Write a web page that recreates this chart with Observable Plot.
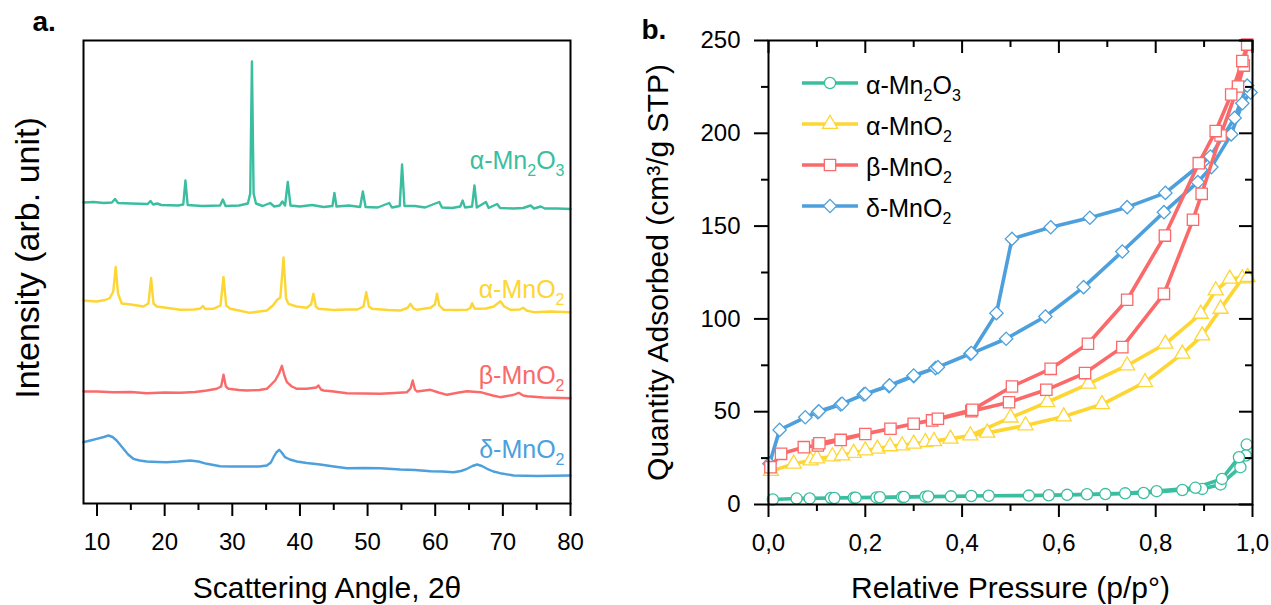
<!DOCTYPE html>
<html><head><meta charset="utf-8">
<script src="https://cdn.jsdelivr.net/npm/d3@7"></script>
<script src="https://cdn.jsdelivr.net/npm/@observablehq/plot@0.6"></script>
<style>
body{margin:0;background:#fff;}
#wrap{position:relative;width:1271px;height:605px;overflow:hidden;font-family:"Liberation Sans",Arial,sans-serif;background:#fff;}
#pa{position:absolute;left:0;top:0;}
#pb{position:absolute;left:640px;top:0;}
#leg{position:absolute;left:0;top:0;pointer-events:none;}
</style></head>
<body><div id="wrap"><div id="pa"></div><div id="pb"></div><svg id="leg" width="1271" height="605"></svg></div>
<script>
// ---------- series meta ----------
const names = ["α-Mn2O3", "α-MnO2", "β-MnO2", "δ-MnO2"];
const colors = ["#3abe9f", "#fdd633", "#fa6a6a", "#4da0dc"];
const symbols = ["circle", "triangle", "square", "diamond2"];

// ---------- panel a: XRD (2θ, intensity arb.) ----------
const thetaMn2O3 = [8,9.5,11,12.2,12.66,13.1,15,17.5,17.9,18.3,18.9,19.5,22,22.75,23.07,23.4,25.5,28.2,28.6,29,31,32.3,32.65,32.9,33.15,33.5,34.5,35.6,36.2,37,37.4,37.8,38.2,38.6,40,41.8,43.5,44.8,45.1,45.4,47.25,48.9,49.3,49.7,51.5,53.2,53.6,54.75,55.1,55.45,57,58.5,60.6,61,62.5,63.7,64.06,64.4,65.45,65.8,66.15,67.5,67.9,69.15,69.6,71.5,73,74.1,74.6,75.6,76.2,78,80];
const intMn2O3 = [301,301.5,300.5,301,304.5,300.5,300,299.5,302.5,299,300,298.5,298,299,323,298.5,297.5,298,304,297.5,298,300,310,442,310,300,297.5,300.5,297,298,302,298,321.5,298,297,298.5,296.5,297.5,310.5,297,298,296.5,312,296.5,296,300.5,296,297.5,339,297.5,297.5,296,301.5,296,295.5,297,303,296,297,318,296,301.5,295.5,299.5,295.5,295,295.5,298,295,297,295,295,294.5];

const thetaAMnO2 = [8,9.9,11.2,11.9,12.4,12.76,13.1,13.65,15,16.86,17.6,17.99,18.35,18.83,20.5,22.3,24.3,25.3,25.64,26,27.2,28.25,28.7,29.1,29.7,31,32.6,34,35.1,36,36.6,37.1,37.57,37.95,38.3,39.5,41,41.65,42,42.35,42.75,45,46.95,48.5,49.4,49.8,50.2,50.65,53,54.84,55.9,56.32,56.8,57.3,59.3,59.95,60.27,60.6,61.25,63,64.7,65.2,65.45,65.8,66.2,67.5,68.65,69.64,70.2,71.12,72.5,73,73.5,74.57,77,80];
const intAMnO2 = [203,202,203.5,205.5,212,236.5,210,200,199,197,200,225.5,200,197,195.5,193.7,194,195,197.5,194.5,194.7,198,226.5,198,194.7,193,190.7,192,193,198,203.5,206,246,205,199.7,197,195.7,199,209.7,197,194.7,193.5,194,194,197,211.3,197,194.7,193.5,193,195.5,199.7,195,193.7,195.7,199,209.7,198,193.7,193.5,193.7,195.5,200.3,195,194.7,195,197,202.3,197,193.7,194,195.7,193,191.3,192,191.3];

const thetaBMnO2 = [8,10,12.4,15,17.35,20,22.3,24.5,26.23,27.7,28.35,28.7,29.05,29.44,31,32.15,34,35.1,36.34,36.9,37.33,37.7,38.07,38.8,39.55,41,42.4,42.75,43.1,43.5,45,46.95,49.5,51.9,54,55.83,56.35,56.67,57,57.3,59.3,60.5,61.75,63.5,64.7,66.68,68.5,69.6,71.5,72.35,73,73.6,76,80];
const intBMnO2 = [112,112,111.3,111.5,110.3,111,110.7,111.5,113,114.7,117,128.7,117,114.7,113.5,113,113.5,114.7,123,130,137.7,128,121.3,117,114.7,114.7,116,118,114,113,112,110.3,110,109.7,110.5,111.3,115,123,114,112,113.7,111,108.7,111,112.3,111.3,108,106.3,108.5,110.7,108,107.3,106,105.3];

const thetaDMnO2 = [8,9,9.95,11,11.68,12.3,12.9,13.9,14.6,15.37,16.3,17.35,19,20.3,22,23.76,25,26.23,28.2,30,32.15,34,35.1,35.7,36.1,36.5,36.93,37.3,37.8,38.5,39.55,41,43,45,46.95,49.5,51.9,54.84,57,59.3,61,62.73,63.8,64.7,65.5,66.2,66.9,67.67,68.6,69.6,71.6,75,80];
const intDMnO2 = [61.3,63,64.7,66.5,68,66.5,63,54.7,49,44.7,43,42,41.5,41.3,42,43,42,39.7,37.3,37,37,37,38,41,46.3,51,53.7,51,46.3,44,42,40.5,39,37,35.3,35.5,35.3,34,33.5,32.3,32,31.3,32.5,34.7,37.5,39,37.5,34.7,32,30.3,28,27.5,28];

const xrdLabelLevel = [335, 206, 120, 46];
const xrdTicks = [10,20,30,40,50,60,70,80];
const xrdMinor = [15,25,35,45,55,65,75];

// ---------- panel b: N2 isotherms (p/p°, cm³/g STP), adsorption then desorption ----------
const pMn2O3 = [0.009,0.058,0.085,0.129,0.176,0.223,0.276,0.324,0.377,0.455,0.538,0.617,0.696,0.775,0.855,0.896,0.934,0.975,0.988, 0.986,0.972,0.937,0.882,0.802,0.737,0.658,0.579,0.419,0.330,0.280,0.230,0.180,0.136];
const qMn2O3 = [2.7,3.2,3.3,3.5,3.6,3.8,4.0,4.2,4.4,4.7,4.8,5.2,5.6,6.2,7.8,8.4,10.8,20.1,32.3, 26.4,25.5,13.8,9.0,7.2,6.0,5.5,5.0,4.6,4.3,4.1,3.9,3.7,3.5];

const pAMnO2 = [0.005,0.052,0.087,0.132,0.176,0.225,0.276,0.324,0.376,0.452,0.531,0.610,0.689,0.778,0.855,0.896,0.934,0.979,0.990, 0.953,0.924,0.893,0.820,0.741,0.661,0.576,0.500,0.417,0.342,0.300,0.251,0.200,0.152,0.100];
const qAMnO2 = [18.0,21.9,23.7,25.9,27.7,30.0,31.8,33.6,35.4,38.6,42.6,47.4,54.0,65.9,81.2,91.0,105.4,121.8,122.5, 121.6,115.3,102.7,86.6,74.9,65.0,55.1,46.8,37.2,34.1,32.7,31.3,29.1,26.4,24.8];

const pBMnO2 = [0.004,0.026,0.073,0.102,0.149,0.200,0.252,0.300,0.338,0.419,0.497,0.574,0.654,0.731,0.817,0.877,0.895,0.934,0.970,0.982,0.989, 0.979,0.956,0.924,0.889,0.819,0.741,0.660,0.583,0.503,0.421,0.350,0.105];
const qBMnO2 = [20.1,27.3,30.9,31.8,34.8,38.0,40.8,43.5,45.3,50.3,55.1,61.8,70.8,84.8,113.5,153.4,167.4,198.8,225.2,236.5,247.8, 238.9,220.9,201.2,183.9,144.9,110.3,86.6,73.1,63.6,51.0,46.2,33.0];

const pDMnO2 = [0.002,0.023,0.076,0.102,0.149,0.197,0.249,0.300,0.345,0.417,0.491,0.572,0.651,0.731,0.817,0.887,0.915,0.956,0.979,0.996, 0.989,0.963,0.913,0.820,0.741,0.664,0.583,0.503,0.471,0.419,0.350,0.300,0.250,0.200,0.152,0.104];
const qDMnO2 = [22.0,40.2,47.0,49.7,53.9,59.3,63.8,69.2,73.5,81.2,89.3,101.3,117.1,136.3,157.5,173.7,181.8,199.4,216.2,222.0, 225.7,208.3,187.5,167.9,160.2,154.5,149.4,143.1,103.1,81.6,74.0,69.5,64.2,59.6,54.3,50.2];

const pTicks = [0,0.2,0.4,0.6,0.8,1.0];
const pMinor = [0.1,0.3,0.5,0.7,0.9];
const qTicks = [0,50,100,150,200,250];
const qMinor = [25,75,125,175,225];

// ---------- tables ----------
const xrdTheta = [thetaMn2O3, thetaAMnO2, thetaBMnO2, thetaDMnO2];
const xrdInt = [intMn2O3, intAMnO2, intBMnO2, intDMnO2];
const xrd = xrdTheta.map((T, k) => T.map((t, i) => ({theta: t, I: xrdInt[k][i]})));
const isoP = [pMn2O3, pAMnO2, pBMnO2, pDMnO2];
const isoQ = [qMn2O3, qAMnO2, qBMnO2, qDMnO2];
const iso = isoP.map((P, k) => P.map((p, i) => ({p, q: isoQ[k][i]})));
const dotR = {circle: 5.6, triangle: 5.6, square: 6.4, diamond2: 6.0};

const ns = "http://www.w3.org/2000/svg";
function subscript(el, str, fs) {
  el.textContent = "";
  let down = false;
  str.split(/(\d+)/).forEach(part => {
    if (!part) return;
    const t = document.createElementNS(ns, "tspan");
    if (/^\d+$/.test(part)) {
      t.setAttribute("font-size", (fs * 0.64).toFixed(1));
      if (!down) { t.setAttribute("dy", (fs * 0.28).toFixed(1)); down = true; }
    } else if (down) {
      t.setAttribute("dy", (-fs * 0.28).toFixed(1)); down = false;
    }
    t.textContent = part;
    el.appendChild(t);
  });
}
function fixSubs(svg, fs) {
  svg.querySelectorAll("text").forEach(el => {
    const s = el.textContent;
    if (names.includes(s)) subscript(el, s, fs);
  });
}

// frame geometry (pixels)
const A = {w: 640, h: 605, ml: 83, mr: 70, mt: 40, mb: 102};
const B = {w: 631, h: 605, ml: 128, mr: 19, mt: 40, mb: 101};
const fh = g => g.h - g.mt - g.mb, fw = g => g.w - g.ml - g.mr;
const MAJ = 13, MIN = 7, TW = 2;
// tick helpers built on tickX / tickY with pixel insets
const ticksBottomOut = (g, v, len) => Plot.tickX(v, {x: d => d, insetTop: fh(g), insetBottom: -len, strokeWidth: TW});
const ticksTopIn = (g, v, len) => Plot.tickX(v, {x: d => d, insetTop: 0, insetBottom: fh(g) - len, strokeWidth: TW});
const ticksLeftOut = (g, v, len) => Plot.tickY(v, {y: d => d, insetLeft: -len, insetRight: fw(g), strokeWidth: TW});
const ticksRightIn = (g, v, len) => Plot.tickY(v, {y: d => d, insetLeft: fw(g) - len, insetRight: 0, strokeWidth: TW});

const style = {fontFamily: "'Liberation Sans', Arial, sans-serif", color: "black", background: "white", overflow: "visible"};

// ---------- panel a ----------
const marksA = [];
xrd.forEach((d, k) => {
  marksA.push(Plot.line(d, {x: "theta", y: "I", stroke: colors[k], strokeWidth: 2.4, strokeLinejoin: "round"}));
});
marksA.push(Plot.text(names.map((n, k) => ({n, k, x: 80, y: xrdLabelLevel[k]})), {
  x: "x", y: "y", text: "n", fill: d => colors[d.k], textAnchor: "end", lineAnchor: "bottom", dx: -6, fontSize: 25
}));
marksA.push(Plot.frame({strokeWidth: 2}));
marksA.push(Plot.axisX(xrdTicks, {anchor: "bottom", tickSize: MAJ, tickPadding: 16, fontSize: 24, strokeWidth: TW, label: null}));
marksA.push(ticksBottomOut(A, xrdMinor, MIN));
marksA.push(Plot.text(["Scattering Angle, 2θ"], {text: d => d, frameAnchor: "bottom", textAnchor: "middle", lineAnchor: "bottom", dy: 94, fontSize: 30}));
marksA.push(Plot.text(["Intensity (arb. unit)"], {text: d => d, frameAnchor: "left", textAnchor: "middle", rotate: -90, lineAnchor: "bottom", dx: -45, dy: -14, fontSize: 34}));
marksA.push(Plot.text(["a."], {text: d => d, frameAnchor: "top-left", textAnchor: "start", lineAnchor: "bottom", dx: -51, dy: -10, fontSize: 28, fontWeight: "bold"}));

const plotA = Plot.plot({
  width: A.w, height: A.h,
  marginLeft: A.ml, marginRight: A.mr, marginTop: A.mt, marginBottom: A.mb,
  x: {domain: [8, 80]},
  y: {domain: [0, 463], axis: null},
  style, marks: marksA
});
fixSubs(plotA, 25);
document.getElementById("pa").appendChild(plotA);

// ---------- panel b ----------
const fmt = d => d.toFixed(1).replace(".", ",");
const marksB = [];
[0, 1, 3, 2].forEach(k => {
  marksB.push(Plot.line(iso[k], {x: "p", y: "q", stroke: colors[k], strokeWidth: 3.6, strokeLinejoin: "round"}));
  marksB.push(Plot.dot(iso[k], {x: "p", y: "q", symbol: symbols[k], r: dotR[symbols[k]], stroke: colors[k], fill: "white", strokeWidth: 1.3}));
});
marksB.push(Plot.frame({strokeWidth: 2}));
marksB.push(Plot.axisX(pTicks, {anchor: "bottom", tickSize: MAJ, tickPadding: 16, fontSize: 24, strokeWidth: TW, tickFormat: fmt, label: null}));
marksB.push(ticksBottomOut(B, pMinor, MIN));
marksB.push(ticksTopIn(B, pTicks, MAJ));
marksB.push(ticksTopIn(B, pMinor, MIN));
marksB.push(Plot.axisY(qTicks, {anchor: "left", tickSize: 14, tickPadding: 14, fontSize: 24, strokeWidth: TW, label: null}));
marksB.push(ticksLeftOut(B, qMinor, MIN));
marksB.push(ticksRightIn(B, qTicks, MAJ));
marksB.push(ticksRightIn(B, qMinor, MIN));
marksB.push(Plot.text(["Relative Pressure (p/p°)"], {text: d => d, frameAnchor: "bottom", textAnchor: "middle", lineAnchor: "bottom", dy: 93, fontSize: 30}));
marksB.push(Plot.text(["Quantity Adsorbed (cm³/g STP)"], {text: d => d, frameAnchor: "left", textAnchor: "middle", rotate: -90, lineAnchor: "bottom", dx: -101, fontSize: 30}));
marksB.push(Plot.text(["b."], {text: d => d, frameAnchor: "top-left", textAnchor: "start", lineAnchor: "bottom", dx: -127, dy: -2, fontSize: 28, fontWeight: "bold"}));

const plotB = Plot.plot({
  width: B.w, height: B.h,
  marginLeft: B.ml, marginRight: B.mr, marginTop: B.mt, marginBottom: B.mb,
  x: {domain: [0, 1]},
  y: {domain: [0, 250]},
  style, marks: marksB
});
document.getElementById("pb").appendChild(plotB);

// ---------- legend (panel b, inside frame) ----------
const leg = d3.select("#leg");
const symType = {circle: d3.symbolCircle, triangle: d3.symbolTriangle, square: d3.symbolSquare, diamond2: d3.symbolDiamond2};
names.forEach((n, k) => {
  const cy = 83 + k * 41;
  leg.append("line").attr("x1", 802).attr("x2", 858).attr("y1", cy).attr("y2", cy)
    .attr("stroke", colors[k]).attr("stroke-width", 3.6);
  const r = dotR[symbols[k]];
  leg.append("path").attr("d", d3.symbol(symType[symbols[k]], Math.PI * r * r)())
    .attr("transform", `translate(830,${cy})`).attr("fill", "white").attr("stroke", colors[k]).attr("stroke-width", 1.3);
  const t = leg.append("text").attr("x", 866).attr("y", cy + 11).attr("font-size", 25)
    .attr("font-family", "'Liberation Sans', Arial, sans-serif").attr("fill", "black");
  subscript(t.node(), n, 25);
});
</script>
</body></html>
